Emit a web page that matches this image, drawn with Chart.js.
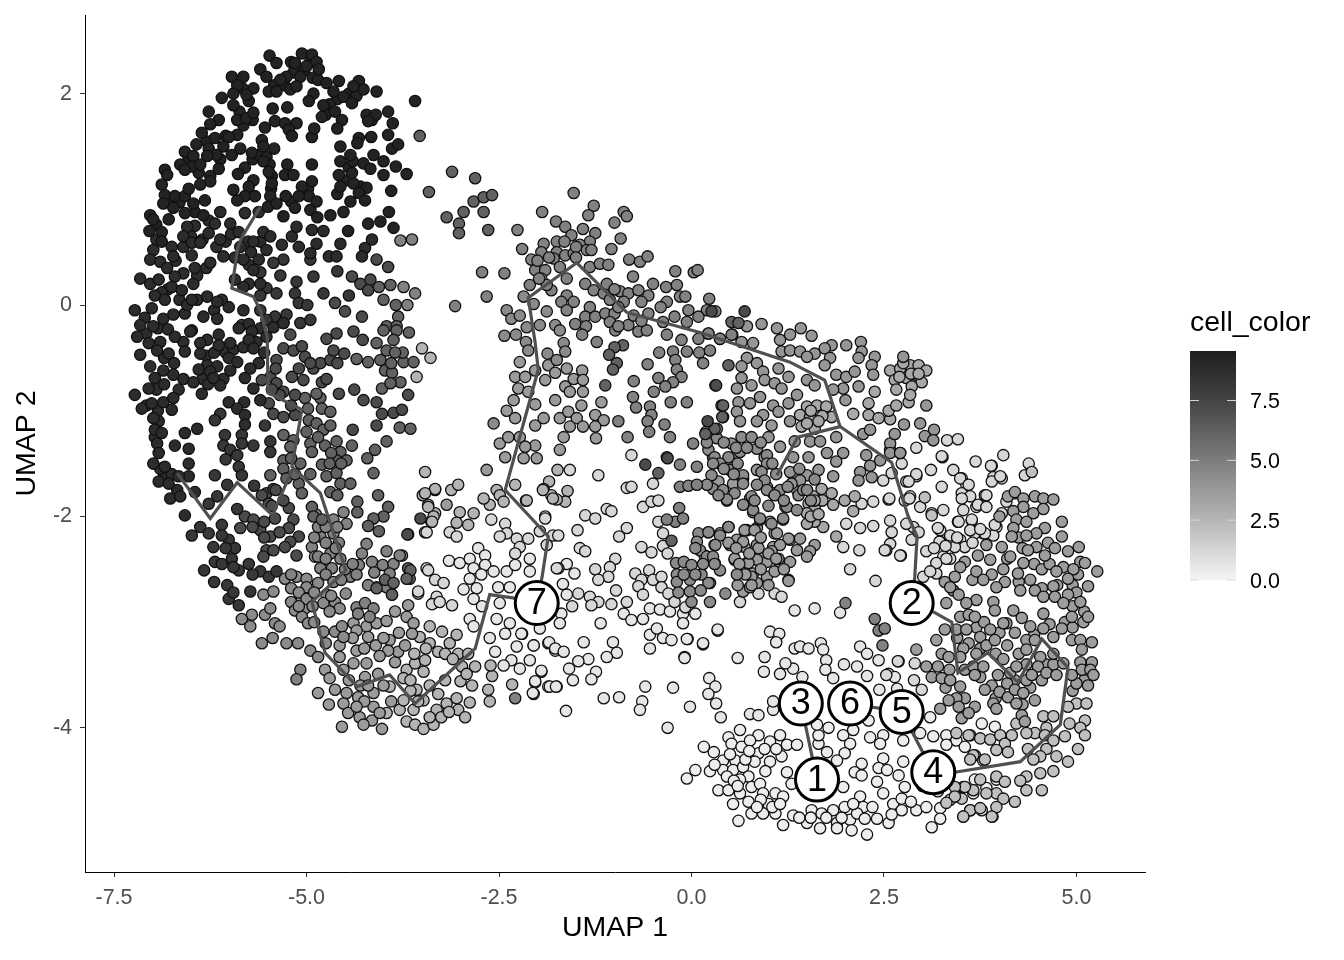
<!DOCTYPE html>
<html>
<head>
<meta charset="utf-8">
<title>UMAP cell_color</title>
<script src="https://cdn.jsdelivr.net/npm/chart.js@4"></script>
<style>
  html, body { margin: 0; padding: 0; background: #fff; }
  canvas { display: block; }
</style>
</head>
<body>
<canvas id="umap" width="1344" height="960"></canvas>
<script>
// Cells, one list per shade, as [UMAP 1, UMAP 2]
const lobeTop = [[-5.48,2.36],[-5.39,2.29],[-5.06,2.38],[-4.93,2.37],[-4.87,2.30],[-5.15,2.29],[-5,2.26],[-4.84,2.23],[-5.08,2.16],[-5.26,2.16],[-5.34,2.13],[-5.6,2.23],[-5.52,2.16],[-5.97,2.16],[-5.82,2.16],[-5.9,2.08],[-5.69,2.05],[-5.78,1.99],[-6.1,1.96],[-5.95,2],[-5.49,2.02],[-5.39,2.02],[-5.21,2.04],[-5.13,2.07],[-4.91,2],[-4.97,1.93],[-4.74,2.1],[-4.58,2.12],[-4.32,2.12],[-4.26,2.04],[-4.39,2.07],[-4.65,2.02],[-4.52,1.97],[-4.41,1.91],[-4.09,2.02],[-3.59,1.93],[-6.27,1.83],[-5.95,1.89],[-5.9,1.75],[-5.78,1.77],[-5.69,1.82],[-5.44,1.86],[-5.25,1.87],[-4.78,1.89],[-4.8,1.78],[-4.63,1.83],[-4.54,1.75],[-4.6,1.67],[-4.22,1.8],[-4.1,1.8],[-4.2,1.74],[-3.94,1.83],[-3.88,1.72],[-3.94,1.61],[-4.16,1.59],[-4.32,1.58],[-4.93,1.59],[-4.9,1.67],[-5.41,1.74],[-5.54,1.68],[-5.28,1.72],[-5.13,1.72],[-5.23,1.66],[-5.19,1.6],[-6.14,1.75],[-6.25,1.71],[-6.36,1.63],[-5.9,1.61],[-6.01,1.59],[-6.19,1.58],[-6.43,1.52],[-6.27,1.48],[-6.17,1.42],[-6.58,1.45],[-6.29,1.41],[-6.47,1.41],[-6.49,1.31],[-6.64,1.33],[-6.58,1.28],[-6.38,1.33],[-6.14,1.29],[-6.84,1.28],[-6.81,1.23],[-5.97,1.42],[-5.86,1.48],[-5.71,1.44],[-5.58,1.56],[-5.56,1.5],[-5.42,1.48],[-5.56,1.36],[-5.49,1.26],[-5.45,1.15],[-5.47,1.03],[-5.89,1.24],[-5.69,1.18],[-5.75,1.12],[-5.95,1.09],[-5.8,1.03],[-5.9,0.99],[-5.67,1.03],[-5.25,1.33],[-5.28,1.23],[-5.17,1.23],[-4.93,1.33],[-4.93,1.17],[-5.06,1.12],[-4.97,1.03],[-4.87,0.98],[-5.1,1.03],[-5.15,0.92],[-5.27,1.03],[-5.39,0.96],[-5.3,0.84],[-4.56,1.5],[-4.34,1.53],[-4.43,1.42],[-4.56,1.36],[-4.58,1.23],[-4.41,1.25],[-4.56,1.12],[-4.39,1.15],[-4.22,1.11],[-4.32,1.06],[-4.24,0.99],[-4.43,0.98],[-4.52,0.88],[-4.69,0.85],[-4.86,0.83],[-4.26,1.34],[-4.13,1.42],[-4,1.36],[-4.17,1.29],[-4,1.23],[-3.84,1.31],[-3.7,1.24],[-3.89,1.48],[-3.81,1.52],[-3.9,1.08],[-3.93,0.88],[-4.04,0.79],[-4.2,0.77],[-3.87,0.73],[-4.46,0.7],[-6.88,1.14],[-6.84,1.04],[-6.86,0.96],[-6.71,1.03],[-6.58,1.03],[-6.53,1.1],[-6.38,1.14],[-6.25,1.17],[-6.73,0.92],[-6.47,0.96],[-6.32,0.99],[-6.58,0.87],[-6.34,0.85],[-7.03,0.85],[-6.99,0.81],[-6.79,0.81],[-7.04,0.7],[-6.88,0.69],[-6.88,0.6]];
const lobeTopMore = [[-5.2,2.3],[-4.95,2.3],[-5.03,2.22],[-4.92,2.15],[-5.17,2.2],[-5.42,2.08],[-5.29,2.08],[-4.85,2.13],[-5.83,2.05],[-5.75,1.93],[-5.87,1.83],[-5.82,1.7],[-5.7,1.75],[-4.45,2],[-4.6,1.95],[-4.35,1.98],[-4.7,1.9],[-4.75,1.8],[-4.15,1.75],[-6.08,1.5],[-6.12,1.38],[-6.3,1.55],[-6.05,1.6],[-5.7,1.38],[-5.62,1.42],[-5.52,1.4],[-5.48,1.33],[-5.45,1.22],[-5.46,1.1],[-6.55,1.35],[-6.4,1.25],[-6.25,1.22],[-5.8,1.3],[-5.5,0.93],[-5.2,0.98],[-4.98,1.1],[-4.45,1.3],[-4.48,1.18],[-4.3,1.12],[-4.4,1.36],[-4.6,1.05],[-4.95,0.9],[-6.78,1],[-6.65,0.97],[-6.45,0.88],[-6.95,0.76]];
const lobeMiddle = [[-6.99,0.52],[-6.75,0.55],[-6.73,0.46],[-7.03,0.43],[-6.9,0.41],[-6.81,0.35],[-6.55,0.74],[-6.6,0.65],[-6.49,0.59],[-6.38,0.59],[-6.27,0.68],[-6.49,0.47],[-6.27,0.8],[-6.12,0.88],[-5.99,0.77],[-6.19,0.77],[-6.12,0.62],[-6.25,0.4],[-6.08,0.46],[-5.88,0.69],[-5.8,0.87],[-5.62,0.88],[-5.86,0.55],[-5.69,0.6],[-5.56,0.69],[-5.47,0.65],[-5.52,0.52],[-5.32,0.57],[-5.19,0.65],[-5.1,0.55],[-5.13,0.74],[-4.93,0.71],[-4.78,0.7],[-4.87,0.58],[-4.95,0.49],[-4.71,0.46],[-4.61,0.46],[-4.56,0.58],[-4.15,0.62],[-4.24,0.54],[-4.28,0.46],[-5.62,0.43],[-5.82,0.43],[-6.45,0.35],[-6.6,0.3],[-6.71,0.27],[-7.16,0.25],[-7.03,0.2],[-6.92,0.24],[-6.97,0.09],[-6.84,0.05],[-6.75,0.17],[-6.62,0.14],[-6.47,0.2],[-6.55,0],[-6.49,0.05],[-6.29,0.08],[-6.16,0.03],[-6.01,-0.02],[-5.93,0.24],[-5.82,0.17],[-5.69,0.33],[-5.82,-0.05],[-6.34,-0.11],[-6.16,-0.13],[-7.23,-0.05],[-7.01,-0.03],[-6.86,-0.13],[-7.16,-0.19],[-6.99,-0.2],[-6.73,-0.09],[-6.49,-0.24],[-7.2,-0.3],[-7.16,-0.47],[-7.05,-0.36],[-6.9,-0.35],[-6.71,-0.3],[-6.51,-0.25],[-6.94,-0.43],[-6.79,-0.46],[-6.58,-0.44],[-7.03,-0.58],[-6.86,-0.62],[-6.73,-0.66],[-6.97,-0.69],[-7.05,-0.79],[-6.66,-0.8],[-7.23,-0.85],[-7.14,-0.98],[-7.01,-0.93],[-6.86,-0.92],[-6.73,-0.88],[-6.75,-0.99],[-6.99,-1.07],[-6.97,-1.18],[-6.88,-1.21],[-6.94,-1.31],[-6.92,-1.4],[-6.99,-1.5],[-6.84,-1.53],[-6.92,-1.67],[-6.79,-1.69],[-6.71,-1.33],[-6.53,-1.36],[-6.58,-1.21],[-6.42,-1.17],[-6.53,-1.5],[-6.77,-1.83],[-6.64,-1.81],[-6.45,-1.77],[-6.58,-1.99],[-6.53,-1.62],[-6.66,-1.62],[-6.38,-0.46],[-6.29,-0.57],[-6.4,-0.61],[-6.47,-0.73],[-6.36,-0.84],[-6.29,-0.33],[-6.38,-0.36],[-6.14,-0.28],[-6.14,-0.38],[-5.99,-0.36],[-6.01,-0.5],[-5.9,-0.54],[-5.99,-0.62],[-6.16,-0.58],[-6.25,-0.63],[-6.12,-0.76],[-6.21,-0.69],[-5.8,-0.69],[-5.73,-0.6],[-5.88,-0.22],[-5.71,-0.25],[-5.75,-0.33],[-5.69,-0.41],[-5.52,-0.3],[-5.43,-0.21],[-5.3,-0.17],[-5.69,-0.79],[-6.01,-0.92],[-5.81,-0.92],[-5.6,-0.9],[-5.9,-0.98],[-5.8,-1.04],[-5.8,-1.13]];
const lobeMiddleMore = [[-6.45,0.75],[-6.5,0.65],[-6.35,0.62],[-6.6,0.55],[-6.7,0.42],[-6.95,0.62],[-6.42,0.28],[-6.3,0.35],[-6.17,0.55],[-6.05,0.6],[-5.98,0.67],[-5.76,0.6],[-5.6,0.6],[-5.93,0.45],[-5.72,0.5],[-5.75,0.38],[-5.6,0.2],[-5.75,0.2],[-6.8,0.15],[-6.88,0.12],[-6.65,0.05],[-6.58,-0.08],[-6.42,0.05],[-6.2,-0.05],[-6.1,0.05],[-7.1,-0.12],[-7.08,-0.27],[-6.93,-0.22],[-6.8,-0.23],[-6.6,-0.35],[-6.85,-0.5],[-6.72,-0.55],[-6.95,-0.8],[-6.85,-0.75],[-6.6,-0.7],[-7.08,-0.95],[-6.93,-1],[-6.97,-1.25],[-6.92,-1.1],[-6.85,-1.62],[-6.9,-1.55],[-6.75,-1.6],[-6.68,-1.75],[-6.35,-0.7],[-6.28,-0.75],[-6.3,-0.48],[-6.2,-0.45],[-6.05,-0.45],[-6.08,-0.7],[-5.95,-0.42],[-5.82,-0.4],[-5.65,-0.35],[-5.6,-0.22],[-5.55,-0.45],[-5.62,-0.55],[-5.75,-0.18]];
const lobeLower = [[-5.54,-1.14],[-5.84,-1.23],[-5.84,-1.31],[-5.69,-1.33],[-6.06,-1.23],[-6.08,-1.33],[-5.99,-1.37],[-5.9,-1.42],[-6.05,-1.46],[-5.88,-1.53],[-5.84,-1.61],[-6.19,-1.61],[-5.47,-1.29],[-5.47,-1.39],[-5.68,-1.71],[-6.03,-1.7],[-6.16,-1.81],[-6.27,-1.88],[-5.9,-1.93],[-6.38,-2.1],[-6.27,-2.16],[-6.49,-2.18],[-6.1,-2.08],[-6.01,-2.22],[-6.21,-2.29],[-5.93,-2.3],[-6.19,-2.43],[-5.97,-2.4],[-5.75,-2.45],[-5.88,-2.51],[-6.33,-2.51],[-5.6,-2.52],[-5.49,-2.57],[-5.39,-2.52],[-6.2,-2.62],[-6.03,-2.65],[-6.01,-2.78],[-5.88,-2.84],[-5.73,-2.71],[-5.3,0.43],[-5.43,0.4],[-5.34,0.28],[-5.6,0.31],[-4.95,0.43],[-4.6,0.32],[-4.91,0.27],[-5.13,0.22],[-5.15,0.11],[-5.1,0.02],[-4.99,0],[-4.78,0.11],[-4.45,0.09],[-5.52,0.16],[-5.39,0.11],[-5.6,0.09],[-5.6,-0.05],[-5.41,-0.11],[-5.26,-0.09],[-5.52,-0.14],[-5.3,-0.17],[-5.08,-0.17],[-4.95,-0.14],[-5.84,-0.19],[-6.12,-1.03],[-6.19,-1.09],[-6.05,-2.3],[-6.1,-2.45],[-5.95,-2.48],[-6.1,-2.18],[-5.7,-2.55],[-5.95,-2.72]];
const ridgeDark = [[-4.63,0.02],[-4.5,-0.06],[-4.28,-0.11],[-4.41,0.27],[-4.3,0.2],[-4.17,0.24],[-4.2,0.14],[-4.09,0.43],[-3.94,0.36],[-5.39,-0.52],[-5.47,-0.68],[-5.58,-0.71],[-5.39,-0.74],[-5.3,-0.82],[-5.49,-0.93],[-5.43,-1.03],[-5.3,-1.06],[-5.15,-1.04],[-5.21,-0.28],[-5.3,-0.41],[-5.17,-0.43],[-5.06,-0.39],[-5.02,-0.49],[-4.91,-0.6],[-4.82,-0.55],[-4.69,-0.52],[-4.65,-0.43],[-4.51,-0.46],[-4.61,-0.27],[-4.74,-0.32],[-4.39,-0.25],[-4.27,-0.33],[-5.19,-0.68],[-5.04,-0.71],[-5.15,-0.85],[-4.8,-0.73],[-4.74,-0.7],[-4.58,-0.84],[-4.38,-0.8],[-4.26,-0.9],[-4.09,-0.92],[-3.68,-0.85],[-4.02,-1.03],[-3.87,-1.02],[-3.76,-0.99],[-4.09,-1.14],[-4.4,-1.18],[-5.52,-1.78],[-5.43,-1.74],[-5.58,-1.8],[-5.49,-1.88],[-5.41,-2.02],[-5.8,-2],[-5.69,-2.03],[-5.6,-2.13],[-5.86,-2.11],[-5.47,-2.19],[-5.23,-1.92],[-5.17,-2.03],[-5.23,-2.11],[-5.1,-2.19],[-5.21,-2.24],[-5.28,-2.29],[-5.13,-2.37],[-5.52,-2.32],[-5.56,-2.38],[-5.43,-2.32],[-3.52,-2.02],[-3.69,-2.17],[-0.6,-1.51],[-0.31,-1.45],[0.69,-0.06],[0.26,-0.06],[0.32,-0.76],[0.21,-1.1],[-5.45,-1.9],[-5.3,-1.85],[-5.35,-2.15],[-5.55,-2.05],[-5.7,-2.1],[-5.55,-2.2],[-5.4,-1.75],[-5.4,-0.6],[-5.35,-0.85],[-5.45,-0.8],[-5.2,-0.95],[-5.1,-0.6],[-4.95,-0.55],[-4.6,-0.55]];
const ridgeMiddle = [[-4.06,0.17],[-3.91,0.19],[-4,0.05],[-3.84,0],[-3.81,-0.11],[-3.96,-0.2],[-3.83,-0.2],[-4.04,-0.52],[-4.2,-0.54],[-4.35,-0.51],[-3.98,-0.62],[-3.89,-0.64],[-3.96,-0.43],[-4.09,-0.36],[-4,-0.24],[-3.83,-0.24],[-3.67,-0.26],[-3.87,-0.33],[-3.74,-0.54],[-3.61,-0.54],[-3.78,-0.73],[-4.02,-0.79],[-3.91,-0.74],[-3.79,-1.16],[-3.65,-1.17],[-3.96,-1.29],[-4.11,-1.37],[-4.21,-1.45],[-4.13,-1.59],[-4.82,-0.88],[-5.02,-0.88],[-4.87,-0.84],[-4.8,-0.98],[-4.69,-1.01],[-4.97,-1.09],[-4.87,-1.12],[-4.78,-1.18],[-4.69,-1.14],[-5.3,-1.23],[-5.17,-1.28],[-4.95,-1.31],[-4.93,-1.39],[-4.76,-1.33],[-4.61,-1.29],[-4.41,-1.33],[-4.56,-1.39],[-4.48,-1.47],[-4.8,-1.51],[-4.61,-1.47],[-4.74,-1.62],[-4.61,-1.59],[-4.56,-1.69],[-4.43,-1.69],[-4.69,-1.77],[-5.3,-1.47],[-5.21,-1.34],[-5.3,-1.55],[-5.08,-1.5],[-4.95,-1.6],[-5.47,-1.61],[-5.1,-1.69],[-5.06,-1.78],[-5.26,-1.64],[-3.53,1.6],[-3.41,1.07],[-4.93,-1.91],[-4.91,-2],[-4.8,-2.03],[-4.07,-1.8],[-4.34,-1.86],[-4.34,-1.96],[-3.94,-1.91],[-4,-2],[-4.13,-2.02],[-4.2,-2.09],[-4.06,-2.14],[-3.68,-2.17],[-3.68,-2.49],[-3.66,-2.59],[-3.98,-2.6],[-3.87,-2.63],[-3.89,-2.74],[-4.09,-2.68],[-3.65,-2.51],[-3.7,-2.59],[-3.02,0.77],[-3.02,0.68],[-3.18,0.83],[-2.64,0.71],[-2.96,0.88],[-2.7,0.88],[-2.83,0.98],[-2.7,1.02],[-2.59,1.04],[-2.81,1.2],[-3.11,1.26],[-0.43,-1.59],[-0.89,-0.38],[-1,-0.4],[-1.07,-0.47],[-0.97,-0.55],[-1.02,-0.61],[-1.12,-0.76],[-0.26,-2.23],[0.48,-0.57],[0.41,-0.95],[0.4,-1.06],[0.3,-1.17],[0.18,-1.22],[0.52,-0.16],[0.61,-0.17],[-5,-1.2],[-4.85,-1.25],[-4.68,-1.4],[-4.55,-1.5],[-4.7,-1.5],[-5.2,-1.45],[-5.15,-1.6],[-4.98,-0.98],[-4.6,-1.8],[-3.75,-0.45],[-3.85,-0.45],[-3.9,-0.55]];
const ridgeLight = [[-3.78,0.61],[-3.63,0.62],[-3.74,0.17],[-3.59,0.11],[-3.69,0],[-4.93,-2.29],[-4.82,-2.19],[-4.65,-2.16],[-4.89,-2.38],[-4.69,-2.35],[-4.56,-2.4],[-4.22,-2.26],[-4.28,-2.35],[-4.32,-2.46],[-4.43,-2.57],[-4.82,-2.49],[-4.67,-2.49],[-4.15,-2.43],[-4.01,-2.46],[-4.12,-2.53],[-3.96,-2.33],[-3.76,-2.37],[-3.87,-2.45],[-4.65,-2.03],[-4.52,-1.96],[-4.48,-2.07],[-3.79,-2.37],[-3.92,-2.54],[-4.09,-2.67],[-3.96,-2.67],[-3.89,-2.74],[-5.08,-3.45],[-5.13,-3.54],[-4.35,-2.86],[-4.24,-2.82],[-4.13,-2.87],[-4.33,-2.92],[-4.18,-2.95],[-2.29,-3.72],[-1.53,1.06],[-1.94,0.88],[-2.26,0.71],[-2.2,0.53],[-2.72,0.31],[-2.43,0.3],[-2.66,0.08],[-3.07,-0.01],[-1.27,0.94],[-1.34,0.85],[-0.88,0.88],[-0.84,0.84],[-1,0.78],[-0.92,0.63],[-1.04,0.53],[-1.76,0.79],[-1.64,0.74],[-1.56,0.66],[-1.41,0.72],[-1.25,0.68],[-1.32,0.6],[-1.45,0.57],[-1.36,0.52],[-1.92,0.58],[-1.95,0.5],[-1.75,0.6],[-1.75,0.5],[-1.64,0.47],[-1.53,0.49],[-1.79,0.44],[-2.08,0.43],[-2.03,0.33],[-1.9,0.33],[-1.95,0.25],[-1.71,0.36],[-1.62,0.25],[-2.1,0.19],[-1.82,0.14],[-1.88,0.19],[-1.32,0.36],[-1.19,0.39],[-1.08,0.38],[-0.81,0.43],[-0.67,0.41],[-0.57,0.46],[-0.21,0.32],[0.03,0.31],[0.08,0.33],[-0.76,0.27],[-1.38,0.2],[-1.27,0.14],[-1.14,0.11],[-1.06,0.05],[-0.93,0.13],[-0.82,0.11],[-0.88,0.03],[-0.69,0.14],[-0.5,0.2],[-0.56,0.09],[-0.65,0.03],[-0.33,0.17],[-0.19,0.19],[-0.15,0.08],[-0.08,0.08],[-0.32,0.03],[-0.4,-0.02],[0.23,0.06],[0.2,-0.05],[0.31,-0.06],[-0.04,-0.05],[0.09,-0.11],[-0.06,-0.16],[-0.22,-0.11],[-0.37,-0.16],[-0.56,-0.08],[-1.62,0.09],[-1.69,0.03],[-1.53,0.03],[-1.62,-0.05],[-1.32,-0.02],[-1.38,-0.11],[-1.25,-0.11],[-1.12,-0.08],[-1,-0.08],[-1.06,-0.16],[-0.99,-0.24],[-0.82,-0.19],[-0.69,-0.25],[-0.58,-0.24],[-1.51,-0.18],[-1.37,-0.2],[-1.42,-0.28],[-1.23,-0.35],[-0.75,-0.72],[-0.57,-0.56],[-0.42,-0.45],[-0.43,-0.69],[-0.24,-0.44],[-0.06,-0.44],[-0.21,-0.52],[-0.19,-0.61],[0.1,-0.45],[0.24,-0.43],[0.15,-0.55],[-0.13,-0.68],[-0.24,-0.73],[-0.34,-0.77],[-0.49,-0.82],[-0.76,-0.87],[-0.72,-0.97],[-0.27,-0.92],[-0.06,-0.92],[-0.54,-0.96],[-0.52,-1.04],[-0.57,-1.1],[-0.55,-1.2],[-0.35,-1.13],[-0.28,-1.25],[-0.95,-1.1],[-0.83,-1.25],[0.02,-1.31],[0.31,-0.76],[-0.32,-1.44],[0.39,-0.95],[0.41,-1.06],[0.33,-1.17],[0.19,-1.2],[-0.13,-0.33],[-0.32,-0.28],[0.09,-0.32],[0.22,-0.27],[0.37,-0.32],[0.52,-0.28],[-0.15,-1.51],[0.07,-1.53],[-0.15,-1.72],[-0.04,-1.71],[0.07,-1.7],[-0.16,-1.92],[-0.21,-2.05],[-0.11,-2.02],[-0.32,-2.03],[2,-2.82],[2.38,-2.97],[2.43,-3.08],[2.51,-3.06],[2.48,-3.22],[-4.88,-1.98],[-4.85,-2.1],[-4.75,-2.1],[-4.9,-2.2],[-4.75,-2.25],[-4.6,-2.1],[-4.58,-2.25],[-4.85,-2.38],[-4.75,-2.4],[-4.62,-2.3],[-4.5,-2.5],[-4.75,-2.55],[-4.65,-2.62],[-4.55,-2.6],[-4.35,-2.55],[-4.4,-2.45],[-4.2,-2.65],[-5.2,-2.55],[-1.1,0.2],[-1,0.15],[-1.5,0.55],[-1.65,0.6],[-1.5,0.45],[-1.3,0.52],[-1.85,0.45],[-2,0.42],[-1.98,0.25],[-0.95,-0.02],[-0.75,-0.1],[-0.65,-0.15],[-0.95,-0.2]];
const bandGrey = [[-5.56,-2.74],[-5.43,-2.71],[-5.71,-2.93],[-5.84,-2.97],[-5.54,-2.93],[-5.47,-2.87],[-5.41,-3.01],[-5.35,-3.04],[-5.73,-3.04],[-5.58,-3.2],[-5.44,-3.15],[-5.26,-3.2],[-5.11,-3.2],[-4.95,-3.27],[-4.85,-3.33],[-5.28,-2.59],[-5.13,-2.57],[-5,-2.59],[-4.85,-2.63],[-5,-2.67],[-5.2,-2.81],[-5.06,-2.78],[-5.15,-2.89],[-5.02,-2.87],[-5.06,-2.95],[-4.98,-3.01],[-4.74,-2.74],[-4.78,-2.82],[-4.63,-2.81],[-4.57,-2.87],[-4.49,-2.73],[-4.78,-3.09],[-4.63,-3.09],[-4.54,-3.04],[-4.52,-3.14],[-2.18,0.08],[-2.05,0.01],[-2.4,-0.05],[-2.34,-0.13],[-2.23,-0.1],[-2.14,-0.21],[-1.97,-0.19],[-1.88,-0.06],[-1.77,-0.19],[-1.71,-0.24],[-2.43,-0.29],[-2.28,-0.28],[-2.15,-0.35],[-2.12,-0.43],[-1.66,-0.36],[-1.64,-0.44],[-1.87,-0.46],[-1.75,-0.52],[-2.57,-1.12],[0.85,-1.36],[0.98,-1.42],[0.98,-1.5],[0.91,-1.58],[0.95,-1.66],[0.98,-1.75],[1.15,-1.75],[1.08,-1.8],[0.78,-1.81],[0.67,-1.89],[0.8,-1.94],[0.89,-2.02],[1.04,-2.07],[1.24,-1.91],[1.19,-2.02],[1.39,-1.8],[1.37,-1.94],[0.09,-2.16],[0.07,-2.24],[0.22,-2.15],[0.37,-2.18],[0.31,-2.27],[0.48,-2.1],[0.11,-2.32],[0.2,-2.38],[0.28,-2.38],[0.37,-2.51],[-0.2,-2.44],[-0.1,-2.43],[0,-2.46],[-0.19,-2.55],[-0.19,-2.62],[-0.02,-2.6],[0.13,-2.55],[0.22,-2.63],[-0.02,-2.71],[0,-2.81],[0.24,-2.81],[0.44,-2.73],[-0.17,-2.72],[0.59,-2.55],[0.33,-1.26],[0.22,-1.37],[0.52,-1.31],[0.65,-1.25],[0.78,-1.25],[0.63,-1.39],[0.3,-1.44],[0.48,-1.44],[0.37,-1.5],[0.5,-1.56],[0.26,-1.61],[0.28,-1.74],[0.41,-1.75],[0.67,-1.61],[0.67,-1.69],[0.56,-1.78],[0.46,-1.84],[-5.2,-2.68],[-5.1,-2.72],[-5,-2.78],[-4.9,-2.72],[-4.92,-2.85],[-5.1,-2.85],[-4.9,-3],[-4.75,-3.2],[-4.68,-2.75],[-4.7,-2.9],[0.2,-1.3],[0.28,-1.5],[0.42,-1.3],[0.42,-1.55],[0.58,-1.35],[0.6,-1.5],[0.55,-1.6],[0.35,-1.8],[0.2,-1.7],[0.72,-1.35],[0.9,-1.3],[1.05,-1.5],[1.1,-1.6],[0.85,-1.7],[0.82,-1.85],[1,-1.9],[1.2,-1.85],[1.25,-1.72],[1.4,-1.55],[1.45,-1.75],[1.55,-1.85],[1.6,-1.65],[1.5,-1.75],[0.05,-2.3],[0.15,-2.45],[-0.1,-2.55],[0.05,-2.55],[0.3,-2.45],[0.12,-2.7]];
const bandPale = [[-2.23,-0.54],[-1.86,-0.57],[-1.62,-0.6],[-1.42,-0.62],[-2.29,-0.68],[-2.16,-0.68],[-2.03,-0.62],[-1.9,-0.71],[-1.77,-0.64],[-2.25,-0.79],[-2.12,-0.82],[-1.64,-0.77],[-1.53,-0.7],[-1.41,-0.71],[-1.58,-0.82],[-1.41,-0.82],[-1.43,-0.95],[-1.77,-0.9],[-2.03,-0.94],[-1.17,-0.92],[-2.31,-0.9],[-2.4,-1],[-2.29,-1.07],[-2.03,-1.14],[-1.92,-1.07],[-1.71,-1.07],[-1.6,-1.01],[-1.49,-1.07],[-1.41,-1.15],[-1.25,-1.04],[-1.14,-1.09],[-1.25,-1.15],[-1.24,-1.26],[-1.58,-1.15],[-1.66,-1.25],[-1.71,-1.37],[-2.49,-1.31],[-2.38,-1.25],[-2.23,-1.25],[-2.03,-1.33],[-2.16,-1.34],[-2.42,-1.44],[-2.18,-1.45],[-2.01,-1.45],[-2.66,-1.56],[-4.63,-3.64],[-4.48,-3.67],[-4.33,-3.71],[-4.52,-3.77],[-4.46,-3.86],[-4.13,-3.67],[-4.13,-3.8],[-4.31,-3.9],[-4.15,-3.93],[-4.85,-3.67],[-4.71,-3.78],[-4.54,-3.99],[-4.26,-3.97],[-4.02,-4.01],[-4.05,-3.86],[-4.76,-3.45],[-4.7,-3.53],[-4.57,-3.22],[-4.35,-3.27],[-4.57,-3.33],[-4.39,-3.39],[-4.22,-3.39],[-4.52,-3.45],[-4.24,-3.52],[-4.07,-3.49],[-3.85,-3.38],[-4.1,-3.22],[-3.92,-3.17],[-3.81,-3.28],[-3.94,-3.27],[-3.72,-3.22],[-4.39,-3.01],[-4.22,-3.04],[-4.09,-3.01],[-4.35,-3.08],[-4.2,-3.14],[-3.96,-2.99],[-3.85,-2.9],[-3.68,-2.84],[-3.7,-2.95],[-3.61,-3.01],[-3.63,-3.11],[-3.18,-1.89],[0.8,-2.54],[0.85,-2.63],[0.67,-2.71],[0.76,-2.67],[0.98,-2.57],[1.08,-2.52],[1.26,-2.6],[0.72,-2.13],[0.59,-2.22],[0.85,-2.11],[0.69,-2.29],[0.56,-2.41],[0.85,-2.27],[0.72,-2.44],[0.87,-2.38],[0.98,-2.43],[1.15,-2.43],[1.28,-2.43],[1.06,-2.29],[1.08,-2.16],[1.19,-2.03],[1.02,-2.05],[0.89,-2.03],[0.8,-1.96],[0.76,-1.83],[0.54,-1.69],[0.67,-1.64],[0.46,-1.85],[0.35,-1.67],[0.28,-1.44],[0.46,-1.5],[0.59,-1.4],[0.85,-1.56],[0.98,-1.72],[1.06,-1.78],[0.95,-1.44],[1.22,-1.91],[1.37,-1.75],[1.34,-1.59],[1.28,-2.22],[1.37,-2.32],[1.11,-2.16],[1.26,-2.21],[1.41,-2.21],[1.15,-2.27],[1.04,-2.33],[1.6,-2.27],[1.54,-2.33],[1.5,-2.38],[1.13,-2.4],[1.26,-2.61],[0.87,-2.3],[0.69,-2.13],[0.82,-2.13],[0.48,-2.1],[0.37,-2.16],[0.22,-2.15],[0.3,-2.27],[0.5,-2.27],[0.67,-2.24],[0.85,-2.41],[0.56,-2.4],[0.74,-2.44],[0.17,-2.37],[0.3,-2.44],[0.78,-2.57],[0.24,-2.63],[0.78,-2.65],[-4.25,-3.75],[-4.3,-3.6],[-4.45,-3.55],[-4.2,-3.6],[-4.35,-3.8],[-4,-3.6],[-3.9,-3.75],[-4.4,-3.15],[-4.25,-3.25],[-4.05,-3.32],[-4,-3.15],[-3.8,-3.1],[0.48,-2.25],[0.58,-2.3],[0.62,-2.45],[0.75,-2.35],[0.9,-2.2],[1,-2.35],[0.7,-2.55],[0.9,-2.5],[1.1,-2.4],[1.2,-2.5],[1,-2.65],[0.6,-2.65]];
const armUpper = [[0.72,-0.2],[0.91,-0.18],[1.11,-0.22],[1.42,-0.22],[1.28,-0.28],[1.15,-0.33],[1.56,-0.29],[0.53,-0.28],[0.22,-0.27],[0.37,-0.32],[0.65,-0.35],[0.8,-0.36],[1.82,-0.38],[1.73,-0.41],[1.6,-0.46],[2.01,-0.38],[2.2,-0.35],[2.21,-0.44],[2.17,-0.5],[1.8,-0.5],[1.73,-0.57],[2.38,-0.49],[2.34,-0.57],[2.36,-0.66],[2.75,-0.49],[1.17,-0.44],[1.28,-0.43],[1.41,-0.44],[1.5,-0.49],[0.72,-0.5],[0.85,-0.55],[0.65,-0.58],[0.65,-0.69],[0.93,-0.63],[0.95,-0.71],[1.13,-0.6],[1.26,-0.68],[1.08,-0.74],[1.17,-0.79],[0.78,-0.76],[0.59,-0.79],[0.89,-0.87],[1.5,-0.71],[1.6,-0.76],[1.37,-0.85],[1.26,-0.93],[1.88,-0.66],[2.01,-0.68],[2.12,-0.63],[1.97,-0.79],[1.84,-0.8],[2.17,-0.77],[2,-0.9],[0.61,-0.92],[0.59,-1.01],[0.63,-1.1],[0.76,-0.93],[1.06,-0.95],[1.13,-1.01],[0.93,-1.04],[0.85,-1.1],[1.04,-1.14],[1.28,-1.1],[1,-1.25],[3.05,-0.95],[3.15,-1.18],[3.03,-1.24],[3.14,-1.28],[1.15,-1.34],[1.32,-1.44],[1.34,-1.29],[1.54,-1.29],[1.52,-1.44],[1.28,-1.58],[1.5,-1.61],[1.41,-1.66],[1.3,-1.69],[1.65,-1.56],[1.84,-1.62],[1.88,-1.25],[1.97,-1.4],[1.88,-1.48],[1.76,-1.4],[1.67,-1.29],[2.58,-1.31],[2.58,-1.4],[2.71,-1.4],[2.27,-1.42],[2.45,-1.47],[2.32,-1.52],[2.19,-1.58],[2.17,-1.66],[2.34,-1.63],[2.76,-1.13],[2.97,-1.12],[2.64,-1.22],[2.23,-1.22],[2.32,-1.18]];
const armPale = [[2.58,-0.62],[2.71,-0.6],[2.84,-0.57],[2.95,-0.57],[3.05,-0.62],[2.64,-0.71],[2.79,-0.69],[2.92,-0.66],[2.99,-0.73],[2.86,-0.77],[2.66,-0.8],[1.5,-0.96],[1.63,-0.95],[1.75,-0.96],[1.82,-1.06],[1.41,-1.04],[1.54,-1.06],[1.43,-1.15],[1.6,-1.17],[2.38,-0.82],[2.3,-0.93],[2.1,-1.03],[2.3,-1.04],[2.43,-1.07],[2.58,-1.08],[2.56,-1],[2.66,-0.95],[2.82,-0.92],[2.84,-0.85],[1.58,-1.81],[1.69,-1.74],[1.82,-1.78],[1.52,-1.88],[1.6,-1.92],[1.5,-1.97],[1.71,-2.1],[1.6,-2.05],[1.5,-2.07],[1.84,-1.89],[1.99,-1.85],[2.12,-1.81],[2.1,-1.95],[1.88,-2.19],[2.7,-0.68],[2.85,-0.65],[2.95,-0.65],[2.75,-0.55],[1.55,-1],[1.7,-1.05],[1.65,-1.1],[1.5,-1.12],[1.7,-1.85],[1.6,-1.85],[1.55,-2],[1.65,-1.98]];
const eastCap = [[4.11,-1.81],[4.2,-1.77],[4.31,-1.83],[4.46,-1.81],[4.57,-1.83],[4.7,-1.84],[4.31,-1.91],[4.44,-1.97],[4.57,-1.93],[4.18,-1.95],[4,-2],[4.22,-2.03],[4.35,-2.05],[4.18,-2.11],[4.16,-2.19],[4.81,-2.05],[4.81,-2.19],[4.59,-2.11],[4.48,-2.16],[4.35,-2.18],[4.63,-2.25],[4.72,-2.3],[4.48,-2.29],[4.37,-2.32],[5.03,-2.29],[4.89,-2.33],[5.05,-2.43],[4.31,-2.44],[4.59,-2.37],[4.14,-2.38],[4.24,-2.54],[3.83,-2.27],[3.72,-2.37],[3.55,-2.43],[3.88,-2.41],[4.03,-2.29],[3.49,-2.48],[3.7,-2.52],[3.79,-2.6],[3.42,-2.57],[3.29,-2.62],[3.36,-2.67],[3.47,-2.74],[4.05,-2.5],[4.07,-2.62],[3.96,-2.67],[4.83,-2.48],[4.96,-2.5],[5.11,-2.44],[5.27,-2.52],[4.89,-2.59],[4.74,-2.52],[4.7,-2.66],[4.46,-2.7],[4.57,-2.76],[4.72,-2.76],[4.89,-2.74],[5.15,-2.66],[4.27,-2.7],[5.05,-2.81],[4.83,-2.82],[4.94,-2.95],[3.92,-2.81],[3.94,-2.89],[3.7,-2.79],[3.57,-2.82],[3.31,-2.82],[3.49,-2.95],[3.6,-2.93],[3.68,-2.95],[4.18,-2.89],[4.09,-3.01],[4.29,-2.96],[4.4,-3.04],[4.57,-2.92],[4.35,-3.17],[4.46,-3.17],[4.57,-3.06],[4.7,-3.14],[4.81,-3.06],[4.94,-3.17],[5.05,-3.17],[5.2,-3.19],[5.09,-3],[5.15,-2.95],[5.07,-3.26],[3.18,-3.17],[3.29,-3.07],[3.25,-3.3],[3.44,-3.07],[3.34,-3.33],[3.53,-3.25],[3.57,-3.07],[3.75,-3.14],[3.88,-3.07],[3.83,-3.22],[3.94,-3.17],[4.05,-3.01],[4.1,-3.22],[3.49,-3.33],[3.7,-3.3],[3.66,-3.42],[3.79,-3.42],[3.98,-3.5],[4.14,-3.48],[4.35,-3.26],[4.53,-3.33],[4.7,-3.3],[4.22,-3.42],[4.5,-3.42],[4.42,-3.5],[4.61,-3.48],[4.83,-3.39],[4.74,-3.5],[5.07,-3.45],[5.18,-3.45],[5,-3.58],[5.15,-3.6],[5.22,-3.5],[4.94,-3.5],[3.05,-3.42],[3.12,-3.52],[3.25,-3.53],[3.36,-3.55],[3.49,-3.61],[3.68,-3.5],[3.81,-3.64],[4,-3.66],[4.11,-3.71],[4.2,-3.64],[4.31,-3.67],[4.46,-3.74],[4.22,-3.77],[3.92,-3.77],[3.96,-3.82],[3.68,-3.8],[3.44,-3.72],[3.34,-3.74],[3.23,-3.82],[3.47,-3.8],[3.51,-3.91],[3.6,-3.86],[4.29,-3.88],[4.33,-3.94],[2.92,-3.26],[2.58,-1.37],[2.71,-1.4]];
const eastCapMore = [[3.4,-2.7],[3.65,-2.6],[3.9,-2.55],[4.1,-2.4],[4.25,-2.2],[4.3,-2.3],[4.25,-2.62],[4.4,-2.6],[4.45,-2.45],[4.55,-2.5],[4.65,-2.45],[4.75,-2.65],[4.55,-2.68],[4.95,-2.65],[5.02,-2.55],[5,-2.72],[4.95,-2.85],[5.1,-2.9],[4.85,-3],[4.95,-3.05],[4.65,-3.02],[4.45,-3.12],[4.2,-3.1],[4,-3.1],[3.7,-3.05],[3.8,-3],[3.45,-3.15],[3.6,-3.2],[3.75,-3.25],[3.95,-3.3],[4.05,-3.35],[4.25,-3.3],[4.35,-3.4],[4.6,-3.4],[4.7,-3.4],[4.55,-3.55],[4.4,-3.62],[4.35,-3.55],[4.2,-3.55],[4.1,-3.58],[3.9,-3.6],[3.75,-3.52],[3.55,-3.45],[3.35,-3.45],[3.2,-3.42],[5.1,-3.55],[5.2,-3.38],[5.05,-3.38],[4.95,-3.65],[4.3,-3.78],[3.55,-3.72],[3.95,-3.72],[3.3,-3.62]];
const eastPale = [[5,-3.77],[5.13,-3.77],[4.89,-3.8],[5.11,-3.93],[4.91,-3.96],[5.05,-4],[5.11,-4.07],[4.85,-4.08],[5.02,-4.2],[4.57,-3.89],[4.7,-3.89],[4.61,-4],[4.46,-4.05],[4.59,-4.07],[4.35,-4.05],[4.7,-4.12],[4.74,-4.27],[4.89,-4.32],[4.61,-4.2],[4.53,-4.27],[4.37,-4.2],[4.44,-4.3],[4.42,-1.58],[3.44,-4.05],[3.6,-4.07],[3.75,-4.1],[3.88,-4.11],[4.01,-4.07],[4.16,-4.07],[4.22,-3.96],[4.07,-4.15],[3.96,-4.21],[4.11,-4.23],[3.66,-4.26],[3.62,-4.3],[3.81,-4.3],[4.53,-4.43],[4.7,-4.41],[4.55,-4.59],[4.35,-4.46],[4.35,-4.59],[4.2,-4.7],[4.27,-4.5],[3.96,-4.46],[4.07,-4.51],[3.96,-4.62],[3.75,-4.49],[3.66,-4.59],[3.55,-4.56],[3.83,-4.62],[4.05,-4.67],[3.96,-4.75],[3.51,-4.67],[3.42,-4.56],[3.62,-4.78],[3.75,-4.76],[3.9,-4.84],[3.53,-4.84],[3.42,-4.65],[3.31,-4.71],[3.03,-1.82],[3.12,-1.99]];
const sandPale = [[-3.92,-3.61],[-3.96,-3.86],[-3.79,-3.83],[-3.74,-3.74],[-3.61,-3.83],[-3.7,-3.94],[-3.59,-3.97],[-3.48,-4.01],[-3.35,-3.97],[-3.31,-3.83],[-3.57,-3.64],[-3.29,-3.68],[-3.48,-3.74],[-3.18,-3.77],[-3.05,-3.72],[-3.03,-3.83],[-2.94,-3.9],[-2.88,-3.76],[-3.7,-3.45],[-3.59,-3.39],[-3.46,-3.36],[-3.74,-3.53],[-3.48,-3.47],[-3.53,-3.14],[-3.4,-3.04],[-3.24,-3.09],[-3.4,-3.2],[-3.29,-3.28],[-3.14,-3.2],[-3.05,-3.12],[-2.98,-3.42],[-3.03,-3.3],[-2.81,-3.42],[-3,-3.56],[-2.92,-3.49],[-2.64,-3.64],[-2.62,-3.75],[-2.33,-3.59],[-2.59,-3.51],[-2.61,-3.41],[-3.33,-1.97],[-3.38,-2.05],[-3.01,-1.96],[-2.83,-1.97],[-3.05,-2.06],[-2.9,-2.08],[-3.12,-1.75],[-3.03,-1.7],[-3.42,-1.89],[-3.49,-1.8],[-3.33,-1.75],[-3.46,-1.58],[-3.33,-1.74],[-3.46,-1.78],[-3.42,-1.91],[-3.35,-2],[-3.37,-2.05],[-3.5,-0.41],[-3.39,-0.5],[-3.57,-0.68],[-2.53,-1.75],[-2.62,-1.89],[-2.49,-1.8],[-2.44,-1.86],[-2.7,-1.83],[-1.74,-1.56],[-1.85,-1.67],[-1.92,-1.74],[-1.61,-1.76],[-1.82,-1.8],[-1.64,-1.86],[-1.75,-1.84],[-2.14,-1.85],[-2.29,-1.7],[-1.93,-1.75],[-1.8,-1.83],[-3.65,-3.65],[-3.4,-3.6],[-3.55,-3.75],[-3.4,-3.9],[-3.25,-3.9],[-3.15,-3.85],[-3.6,-3.3],[-3.45,-3.25],[-3.2,-3.3],[-3.1,-3.35],[-2.9,-3.3],[-2.85,-3.6],[-3.2,-3.55],[-3.65,-3.55]];
const fieldLight = [[-3.44,-2.49],[-3.33,-2.6],[-3.55,-2.73],[-3.35,-2.82],[-3.46,-2.15],[-3.42,-2.51],[-3.22,-2.63],[-3.55,-2.71],[-3.31,-2.76],[-3.37,-2.83],[-3.27,-2.81],[-3.11,-2.84],[-3.44,-2.15],[-3.14,-2.15],[-3.05,-2.19],[-2.6,-2.03],[-2.42,-2.07],[-2.4,-2.16],[-2.49,-2.19],[-2.15,-1.85],[-1.9,-2],[-1.8,-2.18],[-1.97,-2.14],[-1.88,-2.27],[-2.27,-2.21],[-2.12,-2.21],[-2.23,-2.29],[-2.29,-2.35],[-1.75,-2.49],[-1.21,-1.61],[-1.58,-1.56],[-1.1,-1.93],[-1.04,-1.95],[-1.38,-1.99],[-1.25,-2.02],[-1.9,-2.02],[-0.63,-1.91],[-0.52,-1.86],[-0.43,-1.85],[-0.84,-1.73],[-0.78,-1.72],[-0.5,-1.69],[-0.78,-1.42],[-0.43,-2.05],[-0.84,-2.11],[-0.94,-2.19],[-1.48,-2.13],[-0.37,-2.16],[-0.65,-2.29],[-0.52,-2.34],[-0.37,-2.28],[-0.31,-2.35],[-1.45,-2.3],[-1.38,-2.33],[-1.73,-2.18],[-0.99,-2.4],[-1.06,-2.48],[-1.08,-2.57],[-1.25,-2.5],[-1.21,-2.6],[-0.73,-2.54],[-0.55,-2.51],[-0.65,-2.6],[-0.69,-2.66],[-0.5,-2.6],[-0.39,-2.57],[-0.39,-2.67],[-0.3,-2.73],[-0.63,-2.74],[-0.98,-2.7],[-0.22,-2.81],[-1.32,-2.76],[-1.21,-2.81],[-1.3,-2.84],[-1.47,-2.73],[-1.55,-2.85],[-1.04,-2.83],[-0.84,-2.81],[-0.08,-2.86],[1.08,-2.73],[1.17,-2.76],[0.87,-2.73],[0.63,-2.81],[2.01,-2.07],[2.19,-2.11],[2.36,-2.09],[1.97,-2.29],[2.18,-2.32],[2.06,-2.5],[2.39,-2.61],[2.21,-1.88],[2.36,-1.86],[2.73,-1.5],[2.49,-1.66],[2.6,-1.59],[2.79,-1.67],[2.92,-1.62],[3.32,-1.28],[3.46,-1.27],[2.92,-1.35],[3.26,-1.44],[3.69,-1.48],[3.9,-1.52],[4.05,-1.42],[3.4,-1.56],[3.11,-1.56],[3.25,-1.72],[3.51,-1.64],[3.92,-1.63],[4.03,-1.64],[3.9,-1.67],[3.57,-1.7],[3.51,-1.78],[3.62,-1.81],[3.81,-1.8],[4.2,-1.78],[4.09,-1.86],[3.53,-1.94],[3.27,-1.94],[3.12,-1.97],[2.97,-1.91],[2.56,-1.84],[2.77,-1.85],[2.84,-1.81],[3.7,-1.91],[4.03,-1.97],[3.64,-2.04],[3.46,-2.05],[3.96,-2.1],[3.23,-2.13],[3.36,-2.18],[3.49,-2.22],[3.64,-2.13],[3.79,-2.16],[3.92,-2.18],[3.55,-2.29],[3.23,-2.24],[2.86,-2.22],[2.58,-2.04],[2.6,-2.15],[2.58,-2.26],[2.72,-2.37],[2.53,-2.32],[2.88,-2.1],[3.05,-2.33],[3.27,-2.38],[3.36,-2.4],[3.18,-2.54],[3.01,-2.57],[3.18,-2.44],[3.1,-2.52],[3.31,-2.4],[3.25,-1.43],[3.89,-1.52],[4.01,-1.62],[4.38,-1.5],[4.33,-1.61],[3.49,-1.64],[3.6,-1.7],[2.92,-1.6],[2.82,-1.67],[2.57,-1.83],[2.83,-1.83],[3.51,-1.83],[3.83,-1.8],[3.72,-1.89],[3.83,-1.91],[3.47,-2.05],[3.64,-2.03],[3.94,-2.08],[3.2,-2.11],[3.68,-2.16],[3.81,-2.16],[3.62,-2.13],[3.42,-2.29],[3.22,-2.24],[2.79,-2.07],[2.51,-2.32],[2.71,-2.37],[2.68,-3.37],[2.9,-3.39],[2.89,-3.55],[2.99,-3.64],[2.53,-3.5],[3.3,-2.28],[3.45,-2.2],[3.65,-2.25],[3.75,-2.12],[3.15,-2.3],[2.95,-2.15]];
const pathNearSeven = [[-3.15,-2.42],[-3.01,-2.44],[-2.88,-2.4],[-2.77,-2.3],[-2.68,-2.37],[-2.68,-2.46],[-2.83,-2.49],[-2.57,-2.52],[-2.73,-2.55],[-2.88,-2.59],[-2.96,-2.69],[-2.79,-2.68],[-2.83,-2.78],[-2.72,-2.85],[-2.51,-2.67],[-2.36,-2.67],[-2.4,-2.52],[-2.29,-2.46],[-2.1,-2.4],[-2.1,-2.52],[-2.49,-2.82],[-2.88,-2.97],[-2.83,-3.04],[-2.53,-2.97],[-2.36,-3.01],[-2.62,-3.15],[-2.42,-3.11],[-2.2,-3.11],[-2.55,-3.28],[-2.27,-3.23],[-2.05,-3.22],[-2.1,-3.36],[-2.34,-3.36],[-2.44,-3.41],[-2.23,-3.44],[-1.95,-3.47],[-2.03,-3.57],[-1.86,-3.61],[-1.75,-3.61],[-2.05,-3.68],[-1.86,-3.2],[-1.77,-3.27],[-1.97,-3.06],[-0.88,-2.92],[-0.78,-2.98],[-0.63,-2.97],[-0.54,-2.87],[-0.41,-2.88],[-0.28,-2.9],[-0.11,-2.92],[-0.11,-3.01],[0.05,-2.92],[-1.18,-3.01],[0.34,-3.08],[-0.54,-3.12],[-0.45,-3.06],[-0.37,-3.15],[-0.26,-3.17],[-0.54,-3.25],[-0.05,-3.16],[0.15,-3.21],[-0.09,-3.33],[-1.02,-3.19],[-0.97,-3.29],[-1.1,-3.33],[-1.34,-3.35],[-1.47,-3.37],[-1.59,-3.44],[-1.4,-3.19],[-1.24,-3.47],[-1.3,-3.54],[-1.54,-3.55],[-1.85,-3.19],[-1.77,-3.25],[-1.66,-3.28],[-1.69,-2.92],[-1.71,-3.01],[-1.67,-2.64],[-1.62,-2.74],[-1.52,-2.54],[-1.62,-2.45],[-1.73,-2.49],[-2.03,-3.56],[-1.95,-3.46],[-1.84,-3.61],[-1.76,-3.61],[-2.06,-3.67],[-2.05,-3.22],[-2.21,-3.11],[-0.6,-3.61],[-0.24,-3.62],[-0.94,-3.71],[-1.14,-3.72],[-0.64,-3.75],[-0.67,-3.83],[-1.63,-3.84],[-0.02,-3.8],[-0.31,-4],[0.23,-3.53],[0.31,-3.61],[0.22,-3.68],[0.32,-3.77],[0.38,-3.9],[0.6,-3.34],[0.95,-3.33],[0.94,-3.47],[1.15,-3.49],[1.02,-3.09],[1.14,-3.11],[1.1,-3.19],[1.34,-2.89],[1.6,-2.87],[1.93,-2.91],[2.19,-3.23],[2.28,-3.3],[2.43,-3.36],[2.69,-3.37],[2.15,-3.42],[1.98,-3.4],[2.28,-3.51],[2.56,-3.49],[2.64,-3.52],[2.44,-3.64],[2.67,-3.63],[1.32,-3.44],[1.22,-3.39],[1.34,-3.25],[1.41,-3.23],[1.52,-3.25],[1.68,-3.2],[1.71,-3.26],[1.75,-3.36],[1.74,-3.45],[1.84,-3.53],[1.44,-3.52],[0.34,-3.07],[-0.06,-3.16],[0.15,-3.2],[-0.09,-3.34],[0.76,-3.87],[0.87,-3.88],[1.06,-3.83],[1.06,-3.75]];
const bottomLobe = [[1.78,-4],[1.97,-4.07],[2.06,-4.15],[1.99,-4.24],[1.89,-4.31],[1.76,-4.23],[1.65,-4.15],[1.65,-4.07],[1.63,-3.97],[2.1,-4.02],[2.32,-4.09],[2.49,-4.07],[2.45,-4.15],[2.3,-3.93],[2.21,-4.34],[2.12,-4.42],[2.21,-4.45],[1.97,-4.56],[2.41,-4.51],[2.49,-4.29],[2.43,-4.38],[2.54,-4.4],[2.69,-4.45],[2.75,-4.32],[0.63,-4.02],[0.87,-4.07],[0.48,-4.09],[0.52,-4.15],[0.65,-4.18],[0.76,-4.12],[0.87,-4.24],[0.82,-4.32],[1.02,-4.13],[1.15,-4.07],[1.24,-4.16],[1.37,-4.16],[1.17,-4.27],[1.02,-4.32],[0.96,-4.41],[1.24,-4.42],[0.41,-4.31],[0.57,-4.31],[0.29,-4.23],[0.16,-4.18],[0.05,-4.4],[-0.06,-4.48],[0.24,-4.41],[0.41,-4.4],[0.54,-4.4],[0.67,-4.37],[0.74,-4.46],[0.46,-4.46],[0.63,-4.49],[0.35,-4.59],[0.48,-4.59],[0.54,-4.72],[0.63,-4.62],[0.78,-4.56],[0.89,-4.53],[0.74,-4.7],[0.78,-4.81],[0.93,-4.62],[1,-4.72],[1.09,-4.62],[1.19,-4.65],[1.3,-4.53],[0.93,-4.81],[1.09,-4.81],[1.19,-4.92],[0.61,-4.88],[1.32,-4.83],[1.5,-4.9],[1.56,-4.78],[1.67,-4.95],[1.69,-4.81],[1.84,-4.78],[1.99,-4.75],[2.19,-4.65],[2.23,-4.75],[1.89,-4.9],[2.06,-4.87],[1.89,-4.95],[2.08,-4.97],[2.28,-5.01],[2.15,-4.81],[2.25,-4.86],[2.41,-4.86],[2.56,-4.9],[2.49,-4.62],[2.62,-4.72],[2.73,-4.67],[2.73,-4.78],[2.92,-4.78],[3.05,-4.75],[3.23,-4.76],[3.23,-4.86],[3.12,-4.94],[3.53,-4.84],[3.36,-4.68],[2.77,-4.56],[3.31,-4.07],[3.44,-4.12],[3.14,-4.08],[3.31,-4.16],[3.68,-4.26],[3.79,-4.31],[3.94,-3.99],[3.77,-3.96],[3.55,-4.18],[3.62,-4.07],[3.1,-3.9],[2.97,-4.05],[2.75,-4.12],[3.53,-4.56],[3.66,-4.62],[3.44,-4.65],[3.77,-4.78],[3.62,-4.78],[3.91,-4.84],[3.96,-4.49],[3.68,-4.49],[3.83,-4.57],[0.55,-4.5],[0.6,-4.55],[0.9,-4.68],[0.85,-4.75],[1.05,-4.75],[1.15,-4.72],[0.7,-4.3],[0.75,-4.22],[0.95,-4.2],[1.1,-4.2],[0.3,-4.35],[0.5,-4.25],[1.4,-4.85],[1.55,-4.85],[1.75,-4.85],[1.95,-4.85],[2.1,-4.72],[2.35,-4.75],[2.6,-4.82],[2.85,-4.7],[3.2,-4.6],[3,-4.55]];

// Shade of each list, on the cell_color scale
const lobeTopValue = 9.3;
const lobeMiddleValue = 8.8;
const lobeLowerValue = 8.2;
const ridgeDarkValue = 7.2;
const ridgeMiddleValue = 6.2;
const ridgeLightValue = 4.8;
const bandGreyValue = 4.4;
const bandPaleValue = 3.7;
const armUpperValue = 3.9;
const armPaleValue = 3.1;
const eastCapValue = 3.6;
const eastPaleValue = 2.1;
const sandPaleValue = 2.6;
const fieldLightValue = 1.2;
const pathNearSevenValue = 0.6;
const bottomLobeValue = 0.3;

// Principal graph: segments and numbered nodes
const trunkPath = [[-2.01,-2.82],[-1.94,-2.57],[-1.86,-2.19],[-2.42,-1.75],[-1.99,-0.61],[-2.03,-0.36],[-2.12,0.07],[-1.49,0.4],[-0.84,-0.07],[0.11,-0.26],[1.28,-0.54],[1.73,-0.71],[1.93,-1.15],[2.6,-1.49],[2.81,-1.99],[2.93,-2.19],[2.9,-2.57],[2.86,-2.82]];
const forkPath = [[1.93,-1.15],[1.38,-1.25],[1.11,-1.61]];
const leftPath = [[-2.01,-2.82],[-2.32,-2.77],[-2.62,-2.74],[-2.81,-3.25],[-3.59,-3.77],[-3.92,-3.5],[-4.34,-3.61],[-4.76,-3.29],[-4.93,-2.81],[-4.49,-2.51],[-4.82,-1.78],[-5.19,-1.53],[-5.06,-0.99],[-5.5,-0.83],[-5.51,-0.3],[-5.6,-0.05],[-5.69,0.08],[-5.97,0.16],[-5.89,0.55],[-5.84,0.64],[-5.6,0.93]];
const leftFork = [[-5.19,-1.56],[-5.44,-1.99],[-5.9,-1.68],[-6.25,-2.02],[-6.68,-1.59]];
const rightPath = [[2.86,-2.82],[3.16,-2.91],[3.38,-3],[3.46,-3.48],[3.85,-3.29],[4.24,-3.57],[4.55,-3.16],[4.89,-3.43],[4.79,-3.97],[4.27,-4.32],[3.42,-4.42],[3.14,-4.42]];
const nodeLinks = [[1.42,-3.77],[1.63,-4.49]];
const nodeLinks2 = [[3.14,-4.42],[2.73,-3.85],[2.06,-3.77]];
const nodeNames = ['1', '2', '3', '4', '5', '6', '7'];
const nodeX = [1.63, 2.86, 1.42, 3.14, 2.73, 2.06, -2.01];
const nodeY = [-4.49, -2.82, -3.77, -4.42, -3.85, -3.77, -2.82];

// Axis ticks and colour bar
const xTicks = [-7.5, -5, -2.5, 0, 2.5, 5];
const yTicks = [-4, -2, 0, 2];
const legendTicks = [0, 2.5, 5, 7.5];
const colorMax = 9.57;
const greyStops = [[0, 245], [2.5, 182], [5, 125], [7.5, 68], [9.57, 30]];

function greyOf(v) {
    for (let i = 1; i < greyStops.length; i++) {
        if (v <= greyStops[i][0]) {
            const a = greyStops[i - 1], b = greyStops[i];
            const g = Math.round(a[1] + (b[1] - a[1]) * (v - a[0]) / (b[0] - a[0]));
            return `rgb(${g},${g},${g})`;
        }
    }
    return 'rgb(30,30,30)';
}

function pts(list) {
    return list.map(p => ({ x: p[0], y: p[1] }));
}

const cellGroups = [
    [lobeTop, lobeTopValue], [lobeTopMore, lobeTopValue], [lobeMiddle, lobeMiddleValue], [lobeMiddleMore, lobeMiddleValue],
    [lobeLower, lobeLowerValue], [ridgeDark, ridgeDarkValue], [ridgeMiddle, ridgeMiddleValue], [ridgeLight, ridgeLightValue],
    [bandGrey, bandGreyValue], [armUpper, armUpperValue], [bandPale, bandPaleValue],
    [eastCap, eastCapValue], [eastCapMore, eastCapValue], [armPale, armPaleValue], [sandPale, sandPaleValue],
    [eastPale, eastPaleValue], [fieldLight, fieldLightValue], [pathNearSeven, pathNearSevenValue],
    [bottomLobe, bottomLobeValue]
];

const datasets = [];

// Node circles on top of everything
datasets.push({
    type: 'scatter',
    data: nodeX.map((x, i) => ({ x, y: nodeY[i] })),
    pointRadius: 21.5,
    pointBackgroundColor: '#ffffff',
    pointBorderColor: '#000000',
    pointBorderWidth: 3,
    order: 0
});

[trunkPath, forkPath, leftPath, leftFork, rightPath, nodeLinks, nodeLinks2].forEach(path => {
    datasets.push({
        type: 'scatter',
        data: pts(path),
        showLine: true,
        borderColor: '#505050',
        borderWidth: 3.2,
        pointRadius: 0,
        order: 1
    });
});

cellGroups.forEach((g, i) => {
    datasets.push({
        type: 'scatter',
        data: pts(g[0]),
        pointRadius: 5.65,
        pointBackgroundColor: greyOf(g[1]),
        pointBorderColor: '#111111',
        pointBorderWidth: 1.3,
        order: 2 + i
    });
});

// Numbers in the nodes and the colour bar legend
const overlay = {
    id: 'overlay',
    afterDraw(chart) {
        const ctx = chart.ctx;
        const sx = chart.scales.x, sy = chart.scales.y;
        ctx.save();
        ctx.fillStyle = '#000';
        ctx.textAlign = 'center';
        ctx.textBaseline = 'middle';
        ctx.font = '36px "Liberation Sans"';
        nodeNames.forEach((n, i) => {
            ctx.fillText(n, sx.getPixelForValue(nodeX[i]), sy.getPixelForValue(nodeY[i]) + 1);
        });

        const barLeft = 1190, barRight = 1236, barTop = 351, barBottom = 580;
        const grad = ctx.createLinearGradient(0, barBottom, 0, barTop);
        greyStops.forEach(s => grad.addColorStop(s[0] / colorMax, greyOf(s[0])));
        ctx.fillStyle = grad;
        ctx.fillRect(barLeft, barTop, barRight - barLeft, barBottom - barTop);

        ctx.textAlign = 'left';
        ctx.font = '28.5px "Liberation Sans"';
        ctx.fillStyle = '#000';
        ctx.fillText('cell_color', barLeft, 323);
        ctx.font = '21.5px "Liberation Sans"';
        legendTicks.forEach(t => {
            const y = barBottom - (barBottom - barTop) * t / colorMax;
            ctx.strokeStyle = '#d8d8d8';
            ctx.lineWidth = 1;
            ctx.beginPath();
            ctx.moveTo(barLeft, y); ctx.lineTo(barLeft + 9, y);
            ctx.moveTo(barRight - 9, y); ctx.lineTo(barRight, y);
            ctx.stroke();
            ctx.fillStyle = '#000';
            ctx.fillText(t.toFixed(1), 1250, y + 2);
        });
        ctx.restore();
    }
};

new Chart(document.getElementById('umap'), {
    data: { datasets },
    plugins: [overlay],
    options: {
        responsive: false,
        animation: false,
        events: [],
        layout: { autoPadding: false, padding: { top: 15, right: 199, left: 0, bottom: 0 } },
        plugins: { legend: { display: false }, tooltip: { enabled: false } },
        scales: {
            x: {
                type: 'linear',
                min: -7.877,
                max: 5.89,
                afterFit: s => { s.height = 88; s.paddingLeft = 0; s.paddingRight = 0; },
                afterBuildTicks: s => { s.ticks = xTicks.map(v => ({ value: v })); },
                grid: { display: true, drawOnChartArea: false, color: '#333', tickLength: 5 },
                border: { color: '#000', width: 1 },
                ticks: {
                    color: '#4d4d4d', padding: 8, maxRotation: 0, autoSkip: false,
                    font: { family: 'Liberation Sans', size: 21.5 },
                    callback: v => v.toFixed(1)
                },
                title: {
                    display: true, text: 'UMAP 1', color: '#000',
                    font: { family: 'Liberation Sans', size: 28.5 },
                    padding: { top: 0, bottom: 15 }
                }
            },
            y: {
                type: 'linear',
                min: -5.364,
                max: 2.744,
                afterFit: s => { s.width = 85; s.paddingTop = 0; s.paddingBottom = 0; },
                afterBuildTicks: s => { s.ticks = yTicks.map(v => ({ value: v })); },
                grid: { display: true, drawOnChartArea: false, color: '#333', tickLength: 5 },
                border: { color: '#000', width: 1 },
                ticks: {
                    color: '#4d4d4d', padding: 8, autoSkip: false,
                    font: { family: 'Liberation Sans', size: 21.5 },
                    callback: v => String(v)
                },
                title: {
                    display: true, text: 'UMAP 2', color: '#000',
                    font: { family: 'Liberation Sans', size: 28.5 },
                    padding: { top: 10, bottom: 0 }
                }
            }
        }
    }
});
</script>
</body>
</html>
